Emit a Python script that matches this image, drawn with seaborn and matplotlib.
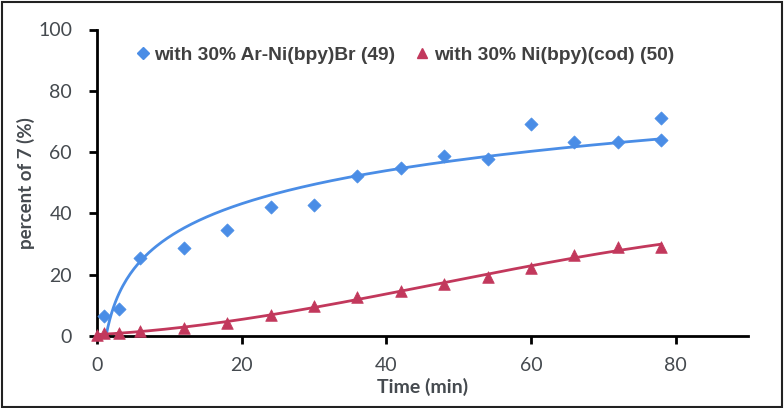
import numpy as np
import pandas as pd
import matplotlib
matplotlib.use("Agg")
import matplotlib.pyplot as plt
import seaborn as sns
from matplotlib.lines import Line2D

# values
time_ar = [1, 3, 6, 12, 18, 24, 30, 36, 42, 48, 54, 60, 66, 72, 78, 78]
pct_ar = [6.5, 8.8, 25.4, 28.7, 34.6, 42.1, 42.7, 52.2, 54.8, 58.7, 57.7, 69.2, 63.3, 63.2, 71.0, 64.0]

time_cod = [0, 1, 3, 6, 12, 18, 24, 30, 36, 42, 48, 54, 60, 66, 72, 78]
pct_cod = [0.3, 0.9, 0.9, 1.6, 2.5, 4.3, 6.8, 9.9, 12.8, 14.7, 16.9, 19.3, 22.1, 26.4, 29.1, 29.1]

label_ar = "with 30% Ar-Ni(bpy)Br (49)"
label_cod = "with 30% Ni(bpy)(cod) (50)"

blue = "#4a8de6"
red = "#c2385c"
grey = "#454a4f"

df_ar = pd.DataFrame({"Time": time_ar, "pct": pct_ar})
df_cod = pd.DataFrame({"Time": time_cod, "pct": pct_cod})

# Excel-style trendlines: logarithmic for 49, polynomial for 50
a, b = np.polyfit(np.log(df_ar["Time"]), df_ar["pct"], 1)
fit_ar = pd.DataFrame({"Time": np.linspace(1, 78, 300)})
fit_ar["pct"] = a * np.log(fit_ar["Time"]) + b

c = np.polyfit(df_cod["Time"], df_cod["pct"], 3)
fit_cod = pd.DataFrame({"Time": np.linspace(0, 78, 300)})
fit_cod["pct"] = np.polyval(c, fit_cod["Time"])

sns.set_style("white")
plt.rcParams["font.family"] = ["Lato", "DejaVu Sans"]

fig = plt.figure(figsize=(7.84, 4.08), dpi=100)
ax = fig.add_axes([97 / 784, 1 - 336 / 408, (748 - 97) / 784, (336 - 29.5) / 408])

sns.lineplot(data=fit_ar, x="Time", y="pct", color=blue, lw=2, ax=ax)
sns.lineplot(data=fit_cod, x="Time", y="pct", color=red, lw=2, ax=ax)
sns.scatterplot(data=df_ar, x="Time", y="pct", marker="D", s=45, color=blue,
                edgecolor=blue, linewidth=0.5, ax=ax, zorder=3, clip_on=False)
sns.scatterplot(data=df_cod, x="Time", y="pct", marker="^", s=70, color=red,
                edgecolor=red, linewidth=0.5, ax=ax, zorder=3, clip_on=False)

ax.set_xlim(0, 90)
ax.set_ylim(0, 100)
ax.set_xticks([0, 20, 40, 60, 80])
ax.set_yticks([0, 20, 40, 60, 80, 100])
ax.tick_params(axis="both", direction="out", length=6, width=2, color="black",
               labelsize=14, labelcolor=grey, left=True, bottom=True)
ax.tick_params(axis="y", pad=12)
ax.tick_params(axis="x", pad=9)
for side in ["top", "right"]:
    ax.spines[side].set_visible(False)
for side in ["left", "bottom"]:
    ax.spines[side].set_linewidth(2)
    ax.spines[side].set_color("black")

ax.set_xlabel("Time (min)", fontsize=14, fontweight="bold", color=grey, labelpad=3)
ax.set_ylabel("percent of 7 (%)", fontsize=13.5, fontweight="bold", color=grey, labelpad=2)

handles = [
    Line2D([], [], ls="none", marker="D", ms=6, color=blue),
    Line2D([], [], ls="none", marker="^", ms=7.5, color=red),
]
ax.legend(handles, [label_ar, label_cod], ncol=2, frameon=False,
          loc="upper left", bbox_to_anchor=(0.035, 1.0), handlelength=0.6,
          handletextpad=0.3, columnspacing=1.1, labelcolor="#404040",
          prop={"family": "Liberation Sans", "weight": "bold", "size": 13.8})

# dark frame around whole figure
fig.patches.append(plt.Rectangle((0.002, 0.003), 0.995, 0.993, transform=fig.transFigure,
                                 fill=False, edgecolor="#222222", lw=1.5))

fig.savefig("out.png", dpi=100)
